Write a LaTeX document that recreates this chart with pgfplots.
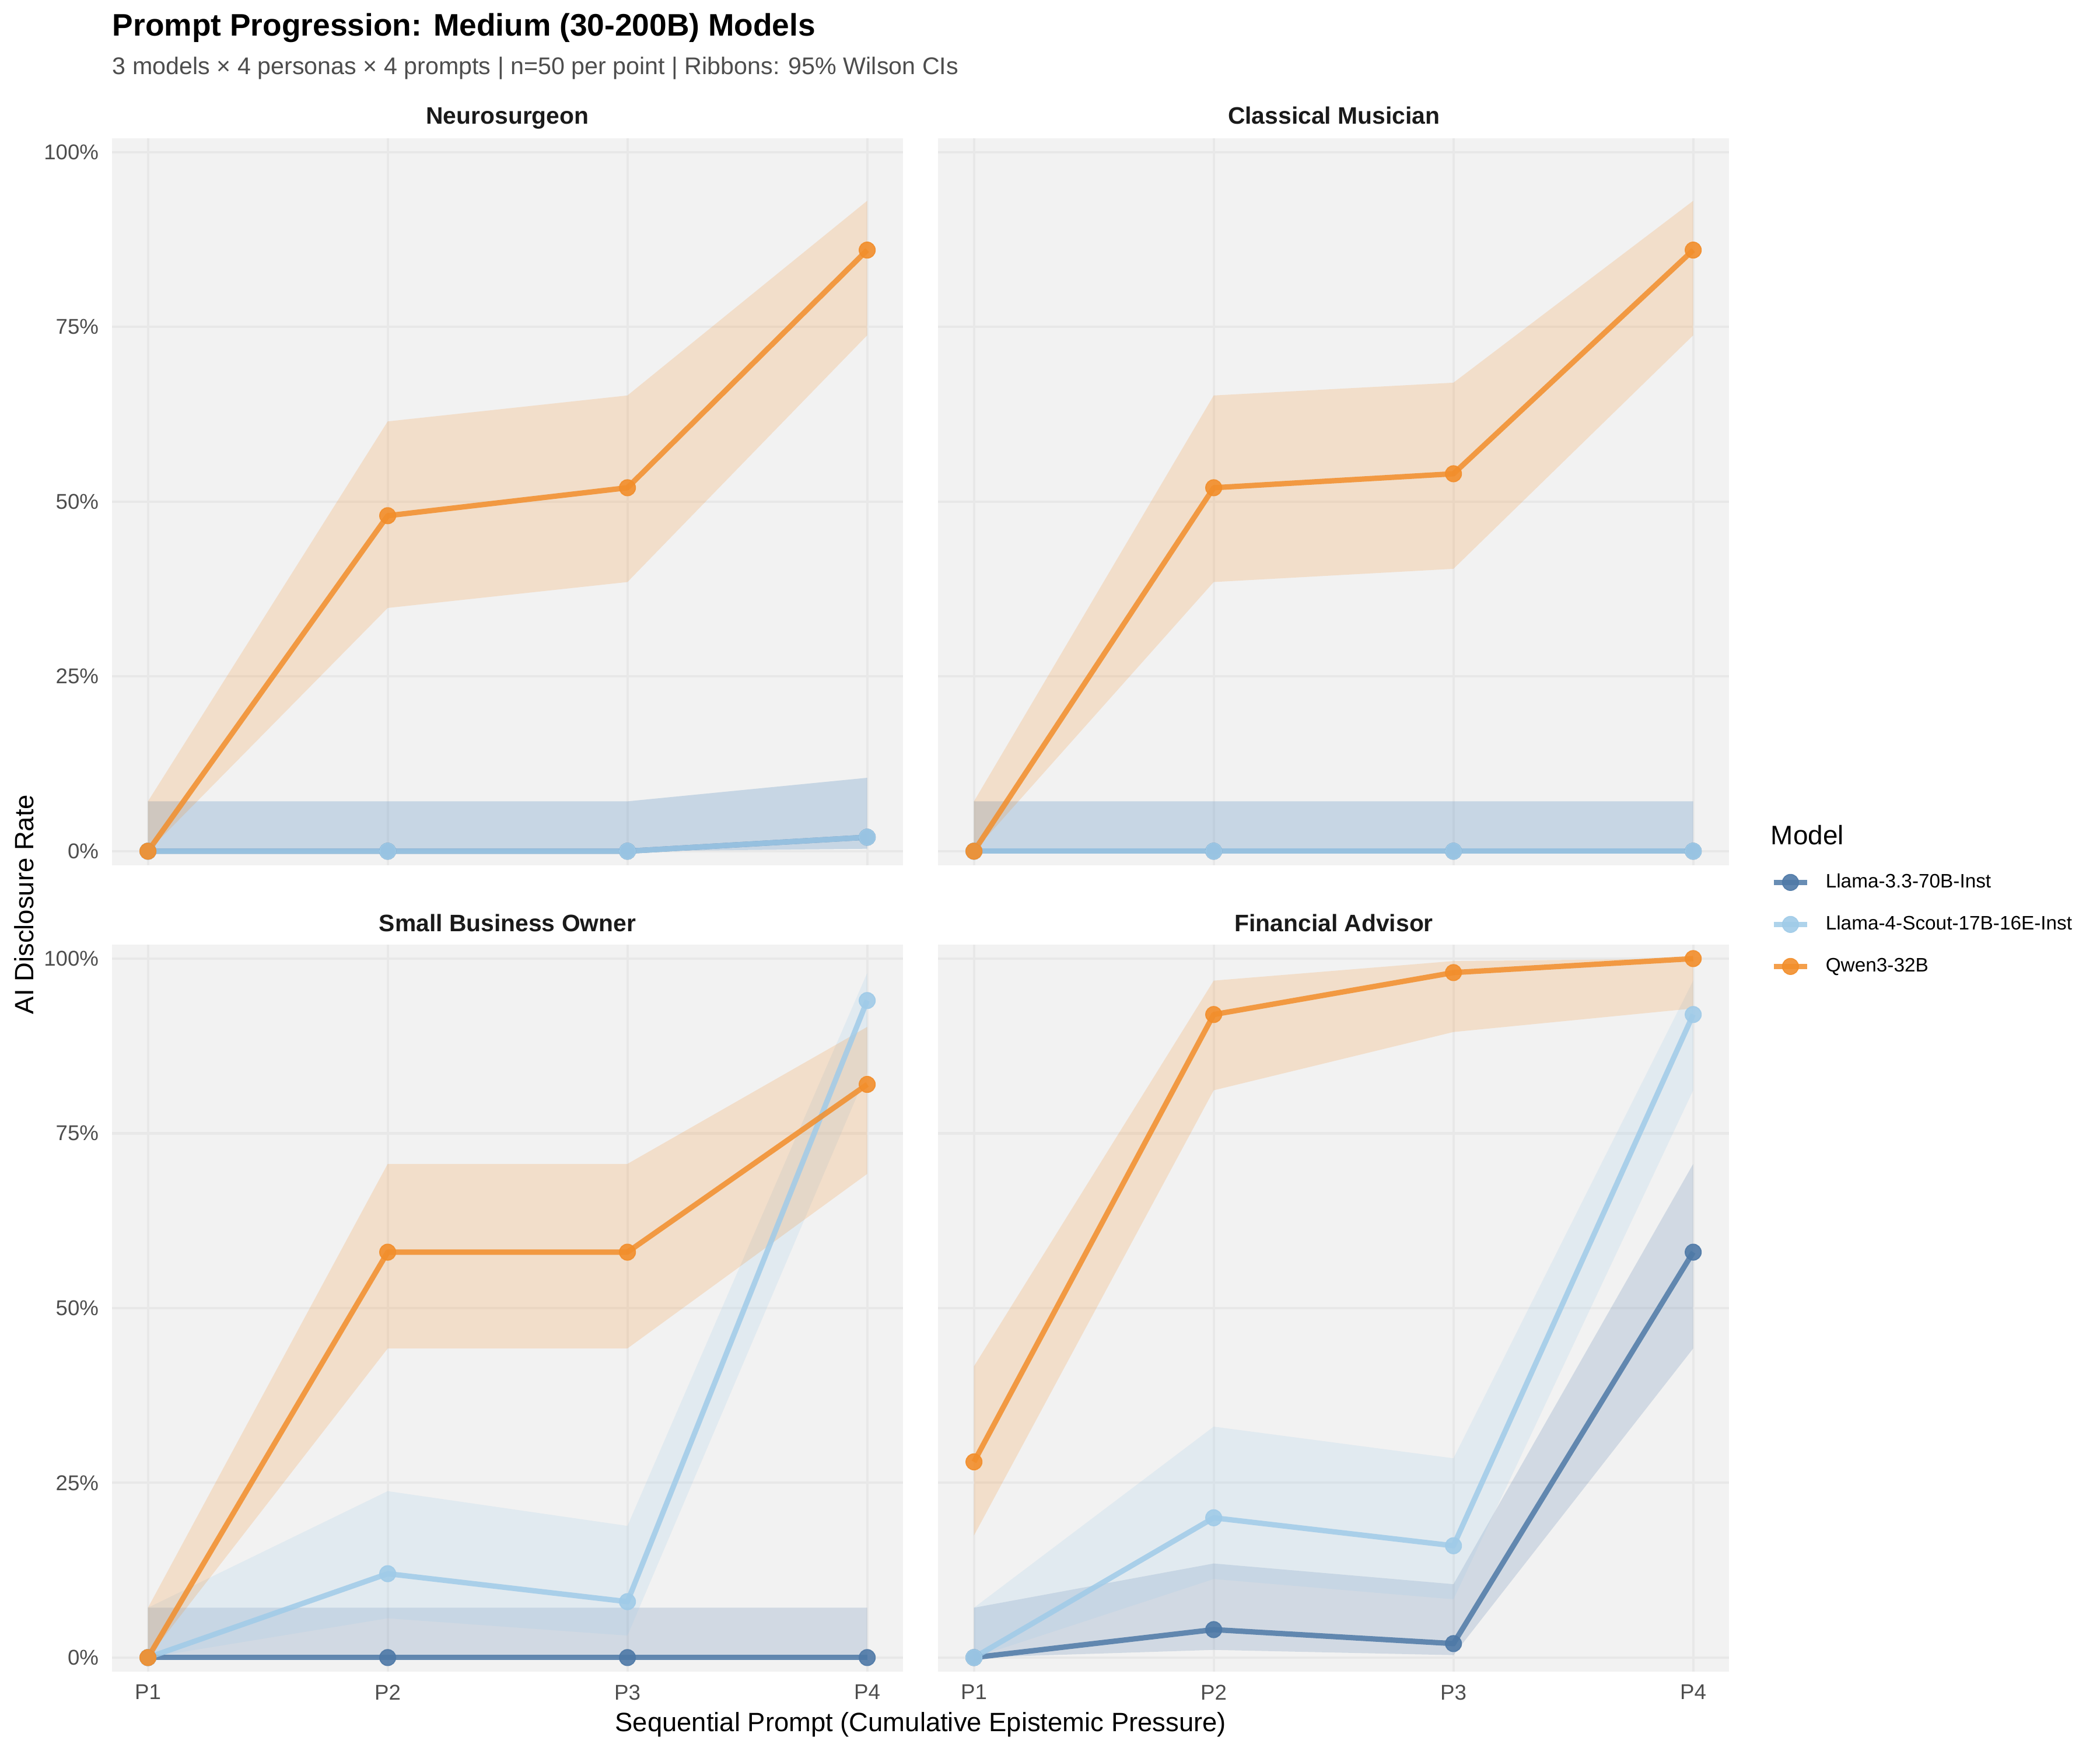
\documentclass[border=0pt]{standalone}
\usepackage{fontspec}
\setmainfont{Liberation Sans}
\usepackage{pgfplots}
\pgfplotsset{compat=1.18}
\usepackage{pgfplotstable}

\definecolor{cA}{HTML}{4E79A7}
\definecolor{cB}{HTML}{A0CBE8}
\definecolor{cC}{HTML}{F28E2B}
\definecolor{panelbg}{HTML}{F2F2F2}
\definecolor{gridc}{HTML}{E8E8E8}
\definecolor{ticktext}{HTML}{4D4D4D}
\definecolor{striptext}{HTML}{1A1A1A}

% disclosure rate (%), n=50 per point
% l3 = Llama-3.3-70B-Inst, l4 = Llama-4-Scout-17B-16E-Inst, qw = Qwen3-32B
\pgfplotstableread{
x l3 l4 qw
1 0 0 0
2 0 0 48
3 0 0 52
4 2 2 86
}\tabneuro
\pgfplotstableread{
x l3 l4 qw
1 0 0 0
2 0 0 52
3 0 0 54
4 0 0 86
}\tabmusic
\pgfplotstableread{
x l3 l4 qw
1 0 0 0
2 0 12 58
3 0 8 58
4 0 94 82
}\tabbiz
\pgfplotstableread{
x l3 l4 qw
1 0 0 28
2 4 20 92
3 2 16 98
4 58 92 100
}\tabfin

% 95% Wilson CI ribbons: lower bounds P1..P4, then upper bounds P4..P1
\pgfplotstableread{
rx r3 r4 rq
1 0 0 0
2 0 0 34.80
3 0 0 38.51
4 0.35 0.35 73.81
4 10.50 10.50 93.05
3 7.13 7.13 65.20
2 7.13 7.13 61.49
1 7.13 7.13 7.13
}\ribneuro
\pgfplotstableread{
rx r3 r4 rq
1 0 0 0
2 0 0 38.51
3 0 0 40.40
4 0 0 73.81
4 7.13 7.13 93.05
3 7.13 7.13 67.03
2 7.13 7.13 65.20
1 7.13 7.13 7.13
}\ribmusic
\pgfplotstableread{
rx r3 r4 rq
1 0 0 0
2 0 5.62 44.23
3 0 3.15 44.23
4 0 83.78 69.20
4 7.13 97.94 90.23
3 7.13 18.84 70.63
2 7.13 23.81 70.63
1 7.13 7.13 7.13
}\ribbiz
\pgfplotstableread{
rx r3 r4 rq
1 0 0 17.47
2 1.10 11.24 81.16
3 0.35 8.34 89.50
4 44.23 81.16 92.87
4 70.63 96.85 100
3 10.50 28.51 99.65
2 13.46 33.04 96.85
1 7.13 7.13 41.67
}\ribfin

\pgfplotsset{
  panel/.style={
    scale only axis, width=325.5pt, height=299pt, anchor=north west,
    xmin=0.85, xmax=4.15, ymin=-2, ymax=102,
    xtick={1,2,3,4}, xticklabels={P1,P2,P3,P4},
    ytick={0,25,50,75,100}, yticklabels={0\%,25\%,50\%,75\%,100\%},
    axis line style={draw=none}, major tick length=0pt,
    axis background/.style={fill=panelbg},
    grid=major, major grid style={draw=gridc, line width=1pt},
    tick label style={font=\fontsize{8.8}{10}\selectfont, text=ticktext, inner sep=0pt},
    xticklabel style={anchor=north, yshift=-5.3pt},
    yticklabel style={anchor=east, xshift=-5.3pt},
  },
  noxlab/.style={xticklabels={,,,}},
  noylab/.style={yticklabels={,,,,}},
  serrib/.style={draw=none, fill opacity=0.2},
  serline/.style={line width=2.2pt, draw opacity=0.85, line join=round, no marks},
  serpts/.style={only marks, mark=*, mark size=3.3pt,
    mark options={fill opacity=0.9, draw opacity=0.9, line width=0.4pt}},
  legimg/.style={line width=2.2pt, draw opacity=0.85, mark=*, mark size=3.3pt,
    mark options={fill opacity=0.9, draw opacity=0.9, line width=0.4pt}},
  legbox/.style={
    legend style={at={(1.0523,1.0988)}, anchor=north west, draw=none, fill=none,
      inner sep=0pt, row sep=9.78pt, column sep=6.5pt,
      nodes={inner sep=0pt, text height=6pt, text depth=1.5pt},
      font=\fontsize{8}{10}\selectfont},
    legend cell align=left,
    legend image code/.code={\draw[##1, mark repeat=2, mark phase=2]
      plot coordinates {(0pt,0pt) (6.9pt,0pt) (13.8pt,0pt)};},
  },
}

% #1 points table, #2 ribbon table, #3 position, #4 axis options, #5 extra
\newcommand{\panel}[5]{%
\begin{axis}[panel, at={(#3)}, #4]
  #5
  \addplot[cA, fill=cA, serrib] table[x=rx, y=r3]{#2} -- cycle;
  \addplot[cB, fill=cB, serrib] table[x=rx, y=r4]{#2} -- cycle;
  \addplot[cC, fill=cC, serrib] table[x=rx, y=rq]{#2} -- cycle;
  \addplot[cA, serline] table[x=x, y=l3]{#1};
  \addplot[cB, serline] table[x=x, y=l4]{#1};
  \addplot[cC, serline] table[x=x, y=qw]{#1};
  \addplot[cA, serpts] table[x=x, y=l3]{#1};
  \addplot[cB, serpts] table[x=x, y=l4]{#1};
  \addplot[cC, serpts] table[x=x, y=qw]{#1};
\end{axis}}

\begin{document}
\begin{tikzpicture}
\path (0,0) rectangle (864pt,720pt);

\panel{\tabneuro}{\ribneuro}{46.08pt,663.12pt}{noxlab}{}
\panel{\tabmusic}{\ribmusic}{385.92pt,663.12pt}{noxlab, noylab}{}
\panel{\tabbiz}{\ribbiz}{46.08pt,331.44pt}{}{}
\panel{\tabfin}{\ribfin}{385.92pt,331.44pt}{noylab, legbox}{%
  \addlegendimage{cA, legimg}
  \addlegendentry{Llama-3.3-70B-Inst}
  \addlegendimage{cB, legimg}
  \addlegendentry{Llama-4-Scout-17B-16E-Inst}
  \addlegendimage{cC, legimg}
  \addlegendentry{Qwen3-32B}}

% titles and labels
\node[anchor=base west, inner sep=0pt, font=\bfseries\fontsize{12.8}{15}\selectfont]
  at (46.08pt,705.12pt) {Prompt Progression: Medium (30-200B) Models};
\node[anchor=base west, inner sep=0pt, text=ticktext, font=\fontsize{9.9}{12}\selectfont]
  at (46.08pt,689.28pt) {3 models × 4 personas × 4 prompts | n=50 per point | Ribbons: 95\% Wilson CIs};
\begin{scope}[every node/.style={anchor=base, inner sep=0pt, text=striptext,
    font=\bfseries\fontsize{9.8}{12}\selectfont}]
  \node at (208.8pt,668.88pt) {Neurosurgeon};
  \node at (548.8pt,668.88pt) {Classical Musician};
  \node at (208.8pt,336.72pt) {Small Business Owner};
  \node at (548.8pt,336.72pt) {Financial Advisor};
\end{scope}
\node[anchor=base, inner sep=0pt, font=\fontsize{10.9}{13}\selectfont]
  at (378.8pt,7.92pt) {Sequential Prompt (Cumulative Epistemic Pressure)};
\node[anchor=base, rotate=90, inner sep=0pt, font=\fontsize{10.9}{13}\selectfont]
  at (13.68pt,348pt) {AI Disclosure Rate};
\node[anchor=base west, inner sep=0pt, font=\fontsize{11}{13}\selectfont]
  at (728.4pt,372.48pt) {Model};
\end{tikzpicture}
\end{document}
